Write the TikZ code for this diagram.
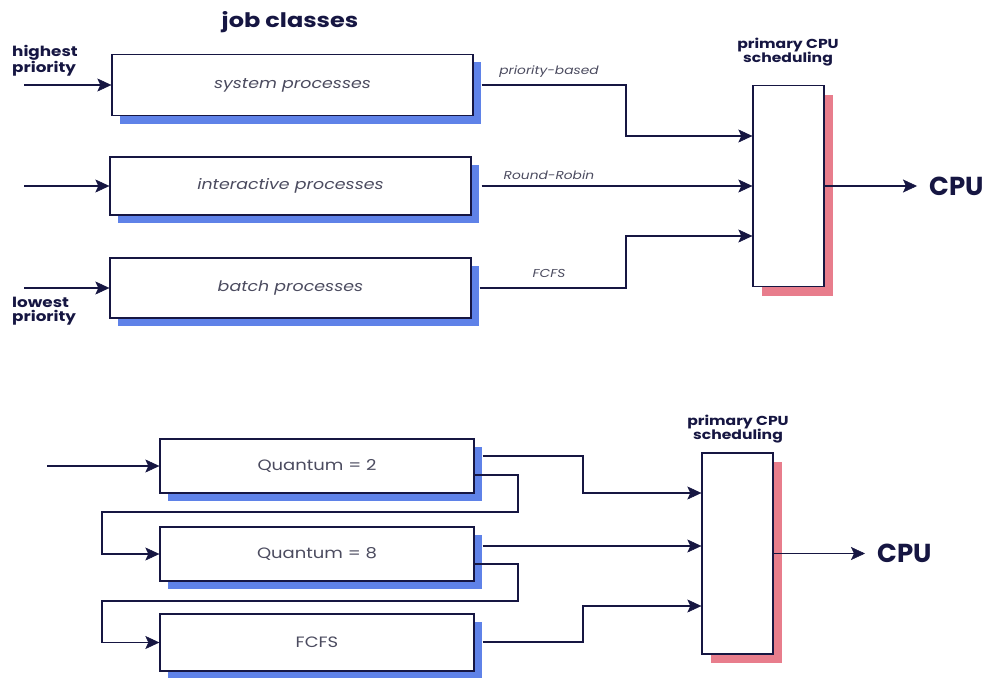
\documentclass[tikz,border=0pt]{standalone}
\usepackage{fontspec}
\setmainfont{Poppins}[FakeStretch=1.2]
\newfontfamily\plainpop{Poppins}
\usetikzlibrary{arrows.meta,shadows,calc}
\definecolor{navy}{RGB}{22,22,66}
\definecolor{shblue}{RGB}{95,130,232}
\definecolor{shpink}{RGB}{232,125,140}
\definecolor{txtgray}{RGB}{75,75,95}
\begin{document}
\begin{tikzpicture}[x=1pt,y=-1pt,
  conn/.style={draw=navy,line width=1.2pt},
  arr/.style={conn,-{Stealth[length=14pt,width=13pt,inset=3pt,line width=0.5pt,fill=navy]}},
  jobbox/.style={draw=navy,line width=1.3pt,fill=white,inner sep=0pt,
    minimum width=361pt,
    drop shadow={shadow xshift=8pt,shadow yshift=-8pt,fill=shblue,opacity=1},
    text=txtgray,font=\itshape\fontsize{14.5}{16}\selectfont},
  qbox/.style={jobbox,minimum width=314pt,font=\fontsize{15}{17}\selectfont},
  schedbox/.style={draw=navy,line width=1.3pt,fill=white,inner sep=0pt,
    minimum width=71pt,minimum height=201pt,
    drop shadow={shadow xshift=9pt,shadow yshift=-9pt,fill=shpink,opacity=1}},
  head/.style={text=navy,font=\bfseries\fontsize{13}{14}\selectfont,align=center,inner sep=0pt},
  prio/.style={text=navy,font=\bfseries\fontsize{14}{14.5}\selectfont,align=left,inner sep=0pt,anchor=west},
  edgelbl/.style={text=txtgray,font=\itshape\fontsize{11.5}{13}\selectfont,inner sep=0pt},
  cpulbl/.style={text=navy,font=\plainpop\bfseries\fontsize{26}{28}\selectfont,inner ysep=0pt,inner xsep=12pt,anchor=west}
]
\useasboundingbox (0,0) rectangle (990,677);
\fill[white] (0,0) rectangle (990,677);

% ---------- top diagram ----------
\node[text=navy,font=\bfseries\fontsize{20}{22}\selectfont,inner sep=0pt] (title) at (290,22) {job classes};
\node[prio] (hp) at (12,61) {highest\\priority};
\node[prio] (lp) at (12,311) {lowest\\priority};

\node[jobbox,minimum height=61pt] (b1) at (292.5,85) {system processes};
\node[jobbox,minimum height=58pt] (b2) at (290.5,186) {interactive processes};
\node[jobbox,minimum height=60pt] (b3) at (290.5,288) {batch processes};

\node[schedbox] (s1) at (788.5,186) {};
\node[head] (h1) at (788,52) {primary CPU\\scheduling};
\node[cpulbl] (cpu1) at (917,186) {CPU};

\coordinate (in1) at (24,85);
\coordinate (in2) at (24,186);
\coordinate (in3) at (24,288);
\draw[arr] (in1) -- (b1.west);
\draw[arr] (in2) -- (b2.west);
\draw[arr] (in3) -- (b3.west);

\coordinate (t1) at (626,136);
\coordinate (t3) at (626,236);
\draw[arr] ([xshift=8pt]b1.east) -| (t1) -- ([yshift=50pt]s1.west);
\draw[arr] ([xshift=10pt]b2.east) -- (s1.west);
\draw[arr] ([xshift=8pt]b3.east) -| (t3) -- ([yshift=-50pt]s1.west);
\draw[arr] (s1.east) -- (cpu1.west);

\node[edgelbl] (l1) at (549,72) {priority-based};
\node[edgelbl] (l2) at (549,175) {Round-Robin};
\node[edgelbl] (l3) at (549,273) {FCFS};

% ---------- bottom diagram ----------
\node[qbox,minimum height=54pt] (q2) at (317,466) {Quantum = 2};
\node[qbox,minimum height=54pt] (q8) at (317,554) {Quantum = 8};
\node[qbox,minimum height=57pt] (qf) at (317,642.5) {FCFS};

\node[schedbox] (s2) at (737.5,553.5) {};
\node[head] (h2) at (738,429) {primary CPU\\scheduling};
\node[cpulbl] (cpu2) at (865,553.5) {CPU};

\coordinate (in4) at (47,466);
\draw[arr] (in4) -- (q2.west);

\coordinate (f1a) at (518,512);
\coordinate (f1b) at (102,512);
\draw[arr] ([yshift=-9pt]q2.east) -| (f1a) -- (f1b) |- (q8.west);
\coordinate (f2a) at (518,601);
\coordinate (f2b) at (102,601);
\draw[arr] ([yshift=-10pt]q8.east) -| (f2a) -- (f2b) |- (qf.west);

\coordinate (u1) at (583,493);
\coordinate (u3) at (583,606);
\draw[arr] ([xshift=8pt,yshift=10pt]q2.east) -| (u1) -- ([yshift=60.5pt]s2.west);
\draw[arr] ([xshift=8pt,yshift=8pt]q8.east) -- ([yshift=7.5pt]s2.west);
\draw[arr] ([xshift=8pt,yshift=0.5pt]qf.east) -| (u3) -- ([yshift=-52.5pt]s2.west);
\draw[arr] (s2.east) -- (cpu2.west);
\end{tikzpicture}
\end{document}
